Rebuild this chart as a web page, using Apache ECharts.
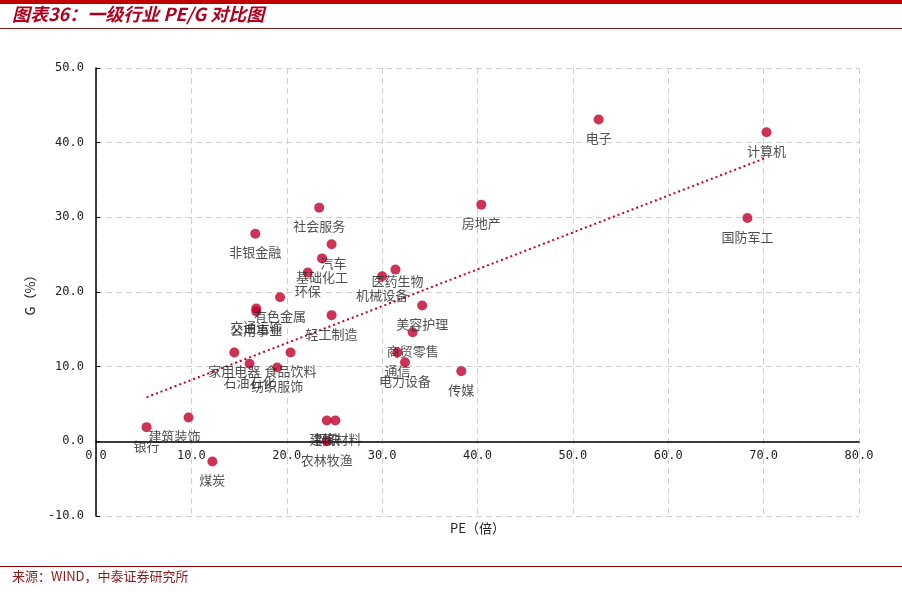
<!DOCTYPE html>
<html><head><meta charset="utf-8">
<script src="https://cdn.jsdelivr.net/npm/echarts@6/dist/echarts.min.js"></script>
<style>html,body{margin:0;padding:0;background:#fff}#c{width:902px;height:592px}</style>
</head><body><div id="c"></div>
<script>
var industries = ['电子','计算机','国防军工','房地产','社会服务','非银金融','汽车','基础化工','环保','有色金属','交通运输','公用事业','医药生物','机械设备','美容护理','轻工制造','商贸零售','通信','电力设备','传媒','家用电器','食品饮料','石油石化','纺织服饰','银行','建筑装饰','煤炭','钢铁','建筑材料','农林牧渔'];
var peValues = [52.7,70.3,68.3,40.4,23.4,16.7,24.7,23.7,22.2,19.3,16.8,16.8,31.4,30.0,34.2,24.7,33.2,31.6,32.4,38.3,14.5,20.4,16.1,19.0,5.3,9.7,12.2,24.2,25.1,24.2];
var gValues = [43.1,41.4,29.9,31.7,31.3,27.8,26.4,24.5,22.6,19.3,17.8,17.4,23.0,22.1,18.2,16.9,14.6,11.9,10.6,9.4,11.9,11.9,10.4,9.9,1.9,3.2,-2.7,2.8,2.8,0.0];
var trendPE = [5.3, 70.3];
var trendG = [5.9, 38.0];
var xTicks = {min:0, max:80, step:10};
var yTicks = {min:-10, max:50, step:10};

var gridTop = 68, gridBottom = 76, H = 592;
var plotH = H - gridTop - gridBottom;
var zeroOffset = plotH * (0 - yTicks.min) / (yTicks.max - yTicks.min);

var labelShift = {'建筑装饰':[-14,0],'医药生物':[2,-7],'汽车':[2,0]};
var red = '#C0002A';
var pts = industries.map(function(n,i){
  var d = {name:n, value:[peValues[i], gValues[i]]};
  if (labelShift[n]) d.label = {offset: labelShift[n]};
  return d;
});
var trend = trendPE.map(function(x,i){return [x, trendG[i]];});

var chart = echarts.init(document.getElementById('c'));
var axisFont = {fontFamily:'DejaVu Sans Mono, monospace', fontSize:12, color:'#222'};
chart.setOption({
  animation:false,
  backgroundColor:'#fff',
  grid:{left:96, right:43, top:gridTop, bottom:gridBottom, containLabel:false, outerBoundsMode:'none'},
  graphic:[
    {type:'rect', left:0, top:0, shape:{width:902, height:4}, style:{fill:'#C00000'}},
    {type:'text', left:12, top:5, style:{text:'图表36：一级行业 PE/G 对比图', font:'italic bold 18px "Noto Sans CJK SC", sans-serif', fill:'#B0001E'}},
    {type:'rect', left:0, top:28, shape:{width:902, height:1}, style:{fill:'#7a1a1a'}},
    {type:'rect', left:0, top:566, shape:{width:902, height:1}, style:{fill:'#8B0000'}},
    {type:'text', left:12, top:570, style:{text:'来源：WIND，中泰证券研究所', font:'13px "Noto Sans CJK SC", sans-serif', fill:'#8B1A1A'}}
  ],
  xAxis:{
    type:'value', min:xTicks.min, max:xTicks.max, interval:xTicks.step,
    position:'bottom', offset:-zeroOffset,
    name:'PE（倍）', nameLocation:'middle', nameGap:80,
    nameTextStyle:{fontFamily:'Noto Sans CJK SC', fontSize:13, color:'#222'},
    axisLine:{show:true, onZero:false, lineStyle:{color:'#000', width:1.5}},
    axisTick:{show:false},
    axisLabel:Object.assign({margin:9, formatter:function(v){return v.toFixed(1);}}, axisFont),
    splitLine:{show:true, lineStyle:{type:[6,4], color:'#d0d0d0'}}
  },
  yAxis:{
    type:'value', min:yTicks.min, max:yTicks.max, interval:yTicks.step,
    name:'G（%）', nameLocation:'middle', nameGap:58, nameRotate:90,
    nameTextStyle:{fontFamily:'Noto Sans CJK SC', fontSize:13, color:'#222'},
    axisLine:{show:true, onZero:false, lineStyle:{color:'#000', width:1.5}},
    axisTick:{show:true, inside:true, length:4, lineStyle:{color:'#000'}},
    axisLabel:Object.assign({margin:12, formatter:function(v){return v.toFixed(1);}}, axisFont),
    splitLine:{show:true, lineStyle:{type:[6,4], color:'#d0d0d0'}}
  },
  series:[
    {type:'line', data:trend, symbol:'none', z:1,
     lineStyle:{color:red, width:2, type:[2,3]}},
    {type:'scatter', data:pts, symbolSize:10, z:3,
     itemStyle:{color:red},
     label:{show:true, position:'bottom', distance:7, formatter:'{b}',
       fontFamily:'Noto Sans CJK SC', fontSize:13, color:'#222'}}
  ]
});
</script></body></html>
